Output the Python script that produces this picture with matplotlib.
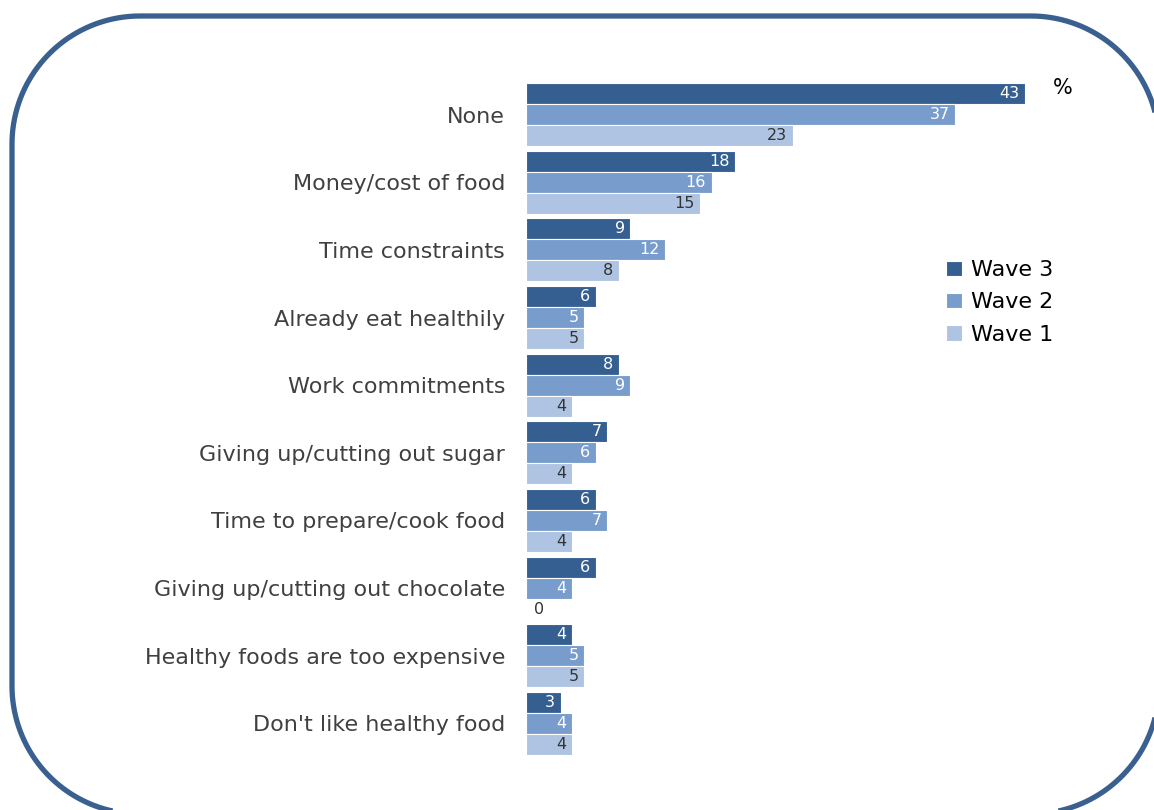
import matplotlib.pyplot as plt
import numpy as np
from matplotlib.patches import Polygon
from matplotlib.transforms import IdentityTransform

categories = ["None", "Money/cost of food", "Time constraints", "Already eat healthily",
              "Work commitments", "Giving up/cutting out sugar", "Time to prepare/cook food",
              "Giving up/cutting out chocolate", "Healthy foods are too expensive",
              "Don't like healthy food"]
wave3 = [43, 18, 9, 6, 8, 7, 6, 6, 4, 3]
wave2 = [37, 16, 12, 5, 9, 6, 7, 4, 5, 4]
wave1 = [23, 15, 8, 5, 4, 4, 4, 0, 5, 4]
series_names = ["Wave 3", "Wave 2", "Wave 1"]

colors = ["#365F91", "#789DCD", "#AFC4E2"]
text_colors = ["white", "white", "#333333"]

W, H = 1154, 810
fig = plt.figure(figsize=(W / 100, H / 100), dpi=100)

# rounded frame in pixel coords, built as polygon (runs past right/bottom edge)
x0, x1, y0, y1, r = 12, 1159, H - 814, H - 16, 128
pts = []
for cx, cy, a0 in [(x1 - r, y1 - r, 0), (x0 + r, y1 - r, 90), (x0 + r, y0 + r, 180), (x1 - r, y0 + r, 270)]:
    t = np.radians(np.linspace(a0, a0 + 90, 40))
    pts += list(zip(cx + r * np.cos(t), cy + r * np.sin(t)))
frame = Polygon(pts, closed=True, transform=IdentityTransform(), facecolor="none",
                edgecolor="#3A6090", linewidth=3.8, clip_on=False)
fig.patches.append(frame)

ax_left, ax_top, ax_bot = 526, 80.7, 757.3
xmax = 50
px_per_unit = (1025 - 526) / 43
ax = fig.add_axes([ax_left / W, 1 - ax_bot / H, xmax * px_per_unit / W, (ax_bot - ax_top) / H])

y = np.arange(len(categories))
h = 0.31
for k, (vals, name) in enumerate(zip([wave3, wave2, wave1], series_names)):
    pos = y + (k - 1) * h
    ax.barh(pos, vals, height=h, color=colors[k], edgecolor="white", linewidth=0.8, label=name)
    for p, v in zip(pos, vals):
        if v > 0:
            ax.annotate(str(v), (v, p), xytext=(-4, 0), textcoords="offset points",
                        ha="right", va="center", fontsize=11.5, color=text_colors[k])
        else:
            ax.annotate(str(v), (0, p), xytext=(6, 0), textcoords="offset points",
                        ha="left", va="center", fontsize=11.5, color="#333333")

ax.set_xlim(0, xmax)
ax.set_ylim(len(categories) - 0.5, -0.5)
ax.set_yticks(y)
ax.set_yticklabels(categories, fontsize=16, color="#404040")
ax.tick_params(axis="y", length=0, pad=15)
ax.set_xticks([])
for s in ax.spines.values():
    s.set_visible(False)

fig.text(1053 / W, 1 - 88 / H, "%", fontsize=15, color="black", va="center", ha="left")

fig.legend(loc="upper left", bbox_to_anchor=(935 / W, 1 - 249 / H), frameon=False,
           fontsize=16, handlelength=0.7, handleheight=0.7, handletextpad=0.4,
           labelspacing=0.55, borderpad=0)

fig.savefig("out.png", dpi=100)
